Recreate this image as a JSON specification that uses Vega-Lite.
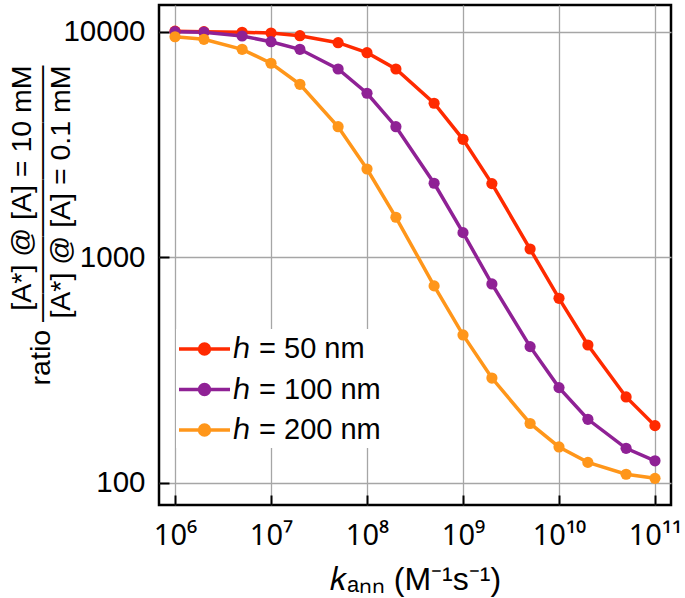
{
  "$schema": "https://vega.github.io/schema/vega-lite/v6.json",
  "autosize": "none",
  "width": 512,
  "height": 500,
  "padding": {"left": 159, "top": 5, "right": 14, "bottom": 93},
  "background": "white",
  "config": {
    "font": "Liberation Sans",
    "view": {"stroke": "black", "strokeWidth": 2.5}
  },
  "data": {
    "values": [
      {"k": 1e6, "ratio": 10050, "h": "ℎ = 50 nm"},
      {"k": 2e6, "ratio": 10000, "h": "ℎ = 50 nm"},
      {"k": 5e6, "ratio": 9940, "h": "ℎ = 50 nm"},
      {"k": 1e7, "ratio": 9870, "h": "ℎ = 50 nm"},
      {"k": 2e7, "ratio": 9600, "h": "ℎ = 50 nm"},
      {"k": 5e7, "ratio": 8940, "h": "ℎ = 50 nm"},
      {"k": 1e8, "ratio": 8070, "h": "ℎ = 50 nm"},
      {"k": 2e8, "ratio": 6835, "h": "ℎ = 50 nm"},
      {"k": 5e8, "ratio": 4815, "h": "ℎ = 50 nm"},
      {"k": 1e9, "ratio": 3333, "h": "ℎ = 50 nm"},
      {"k": 2e9, "ratio": 2120, "h": "ℎ = 50 nm"},
      {"k": 5e9, "ratio": 1087, "h": "ℎ = 50 nm"},
      {"k": 1e10, "ratio": 657, "h": "ℎ = 50 nm"},
      {"k": 2e10, "ratio": 408, "h": "ℎ = 50 nm"},
      {"k": 5e10, "ratio": 240, "h": "ℎ = 50 nm"},
      {"k": 1e11, "ratio": 179, "h": "ℎ = 50 nm"},
      {"k": 1e6, "ratio": 10000, "h": "ℎ = 100 nm"},
      {"k": 2e6, "ratio": 9950, "h": "ℎ = 100 nm"},
      {"k": 5e6, "ratio": 9570, "h": "ℎ = 100 nm"},
      {"k": 1e7, "ratio": 9030, "h": "ℎ = 100 nm"},
      {"k": 2e7, "ratio": 8355, "h": "ℎ = 100 nm"},
      {"k": 5e7, "ratio": 6835, "h": "ℎ = 100 nm"},
      {"k": 1e8, "ratio": 5333, "h": "ℎ = 100 nm"},
      {"k": 2e8, "ratio": 3790, "h": "ℎ = 100 nm"},
      {"k": 5e8, "ratio": 2127, "h": "ℎ = 100 nm"},
      {"k": 1e9, "ratio": 1285, "h": "ℎ = 100 nm"},
      {"k": 2e9, "ratio": 761, "h": "ℎ = 100 nm"},
      {"k": 5e9, "ratio": 401, "h": "ℎ = 100 nm"},
      {"k": 1e10, "ratio": 264, "h": "ℎ = 100 nm"},
      {"k": 2e10, "ratio": 191, "h": "ℎ = 100 nm"},
      {"k": 5e10, "ratio": 142, "h": "ℎ = 100 nm"},
      {"k": 1e11, "ratio": 125, "h": "ℎ = 100 nm"},
      {"k": 1e6, "ratio": 9500, "h": "ℎ = 200 nm"},
      {"k": 2e6, "ratio": 9253, "h": "ℎ = 200 nm"},
      {"k": 5e6, "ratio": 8355, "h": "ℎ = 200 nm"},
      {"k": 1e7, "ratio": 7244, "h": "ℎ = 200 nm"},
      {"k": 2e7, "ratio": 5845, "h": "ℎ = 200 nm"},
      {"k": 5e7, "ratio": 3790, "h": "ℎ = 200 nm"},
      {"k": 1e8, "ratio": 2461, "h": "ℎ = 200 nm"},
      {"k": 2e8, "ratio": 1503, "h": "ℎ = 200 nm"},
      {"k": 5e8, "ratio": 746, "h": "ℎ = 200 nm"},
      {"k": 1e9, "ratio": 452, "h": "ℎ = 200 nm"},
      {"k": 2e9, "ratio": 291, "h": "ℎ = 200 nm"},
      {"k": 5e9, "ratio": 183, "h": "ℎ = 200 nm"},
      {"k": 1e10, "ratio": 144, "h": "ℎ = 200 nm"},
      {"k": 2e10, "ratio": 123, "h": "ℎ = 200 nm"},
      {"k": 5e10, "ratio": 109, "h": "ℎ = 200 nm"},
      {"k": 1e11, "ratio": 104.5, "h": "ℎ = 200 nm"}
    ]
  },
  "mark": {"type": "line", "strokeWidth": 3.5, "point": {"filled": true, "size": 125, "opacity": 1}},
  "encoding": {
    "x": {
      "field": "k", "type": "quantitative",
      "scale": {"type": "log", "domain": [681000, 1.468e11], "nice": false},
      "axis": {
        "values": [1e6, 1e7, 1e8, 1e9, 1e10, 1e11],
        "grid": true, "gridColor": "#a6a6a6", "gridWidth": 1.3, "gridOpacity": 1,
        "domain": false,
        "ticks": true, "tickSize": -10, "tickColor": "black", "tickWidth": 2,
        "labelExpr": "'10' + ['⁶','⁷','⁸','⁹','¹⁰','¹¹'][round(log(datum.value)/LN10) - 6]",
        "labelFont": "Noto Sans",
        "labelFontSize": 29, "labelPadding": 26, "labelColor": "black", "labelFlush": false, "labelOverlap": false,
        "title": "𝑘ₐₙₙ (M⁻¹s⁻¹)",
        "titleFontSize": 32, "titleFontWeight": "normal", "titleColor": "black",
        "titleBaseline": "alphabetic", "titleY": 84
      }
    },
    "y": {
      "field": "ratio", "type": "quantitative",
      "scale": {"type": "log", "domain": [79.6, 13135], "nice": false},
      "axis": {
        "values": [100, 1000, 10000],
        "format": "d",
        "grid": true, "gridColor": "#a6a6a6", "gridWidth": 1.3, "gridOpacity": 1,
        "domain": false,
        "ticks": true, "tickSize": -10, "tickColor": "black", "tickWidth": 2,
        "labelFontSize": 29.5, "labelPadding": 24, "labelColor": "black", "labelFlush": false, "labelOverlap": false,
        "title": ["[A*] @ [A] = 10 mM", "ratio ―――――――――", "[A*] @ [A] = 0.1 mM"],
        "titleFontSize": 28.5, "titleFontWeight": "normal", "titleColor": "black",
        "titleAngle": 270, "titleAlign": "right", "titleBaseline": "middle",
        "titleX": -138, "titleY": 60, "titleLineHeight": 19.5
      }
    },
    "color": {
      "field": "h", "type": "nominal",
      "scale": {"domain": ["ℎ = 50 nm", "ℎ = 100 nm", "ℎ = 200 nm"], "range": ["#ff2a00", "#8f2195", "#ff961a"]},
      "sort": null,
      "legend": {
        "orient": "none", "legendX": 17, "legendY": 324,
        "title": null, "fillColor": "white", "padding": 3,
        "symbolType": "M-1.7,0L1.7,0M-0.33,0A0.33,0.33,0,1,1,0.33,0A0.33,0.33,0,1,1,-0.33,0Z",
        "symbolSize": 900, "symbolStrokeWidth": 3.5, "symbolOffset": 8.5,
        "labelOffset": 11.5, "labelFontSize": 29, "labelColor": "black", "rowPadding": 8.5,
        "encode": {"symbols": {"update": {"fill": {"scale": "color", "field": "value"}, "stroke": {"scale": "color", "field": "value"}, "opacity": {"value": 1}}}}
      }
    }
  }
}
